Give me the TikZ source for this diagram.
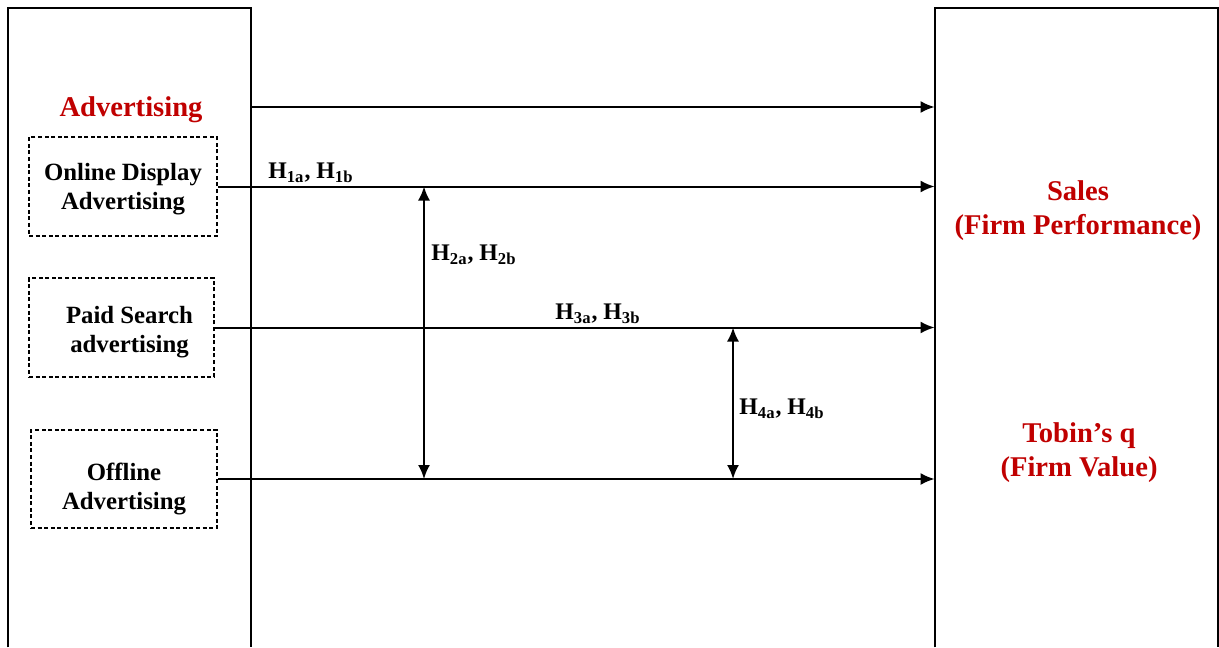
\documentclass[tikz,border=0pt]{standalone}
\usepackage{fontspec}
\setmainfont{Liberation Serif}
\usetikzlibrary{arrows.meta,calc}
\definecolor{redtxt}{HTML}{C00000}
\begin{document}
\begin{tikzpicture}[x=0.5pt,y=-0.5pt,
  bigbox/.style={rectangle,inner sep=0pt},
  dbox/.style={draw,dash pattern=on 2pt off 1.3pt,line width=0.75pt,rectangle,inner sep=0pt},
  dtext/.style={align=center,inner sep=0pt,font=\fontsize{12.4}{14.5}\selectfont\bfseries},
  redlbl/.style={text=redtxt,align=center,font=\fontsize{14.3}{17}\selectfont\bfseries},
  hlbl/.style={font=\fontsize{11.9}{13}\selectfont\bfseries,inner sep=0pt},
  arr/.style={line width=1pt,-{Latex[length=7pt,width=6pt]}},
  dbl/.style={line width=1pt,{Latex[length=7pt,width=6pt]}-{Latex[length=7pt,width=6pt]}}]
\useasboundingbox (0,0) rectangle (1219,647);
% big boxes
\node[bigbox,minimum width=121.5pt,minimum height=319.5pt] (left) at (129.5,327.5) {};
\node[bigbox,minimum width=141.5pt,minimum height=319.5pt] (right) at (1076.5,327.5) {};
\draw[line width=1pt] (left.south west) |- (left.north east) -- (left.south east);
\draw[line width=1pt] (right.south west) |- (right.north east) -- (right.south east);
% dashed boxes
\node[dbox,minimum width=94pt,minimum height=49.5pt] (onl) at (123,186.5) {};
\node[dbox,minimum width=92.5pt,minimum height=49.5pt] (paid) at (121.5,327.5) {};
\node[dbox,minimum width=93pt,minimum height=49pt] (off) at (124,479) {};
\node[dtext] (onlt) at (123,189.5) {Online Display\\Advertising};
\node[dtext] (paidt) at (129.5,332) {Paid Search\\advertising};
\node[dtext] (offt) at (124,488.5) {Offline\\Advertising};
% red texts
\node[redlbl] (adv) at (131,110) {Advertising};
\node[redlbl] (sales) at (1078,210.5) {Sales\\(Firm Performance)};
\node[redlbl] (tobin) at (1079,453) {Tobin’s q\\(Firm Value)};
% horizontal arrows
\coordinate (a1) at (0,107);
\draw[arr] (a1 -| left.east) -- (a1 -| right.west);
\draw[arr] (onl.east) -- (onl.east -| right.west);
\draw[arr] (paid.east) -- (paid.east -| right.west);
\draw[arr] (off.east) -- (off.east -| right.west);
% vertical double arrows
\coordinate (x2) at (424,0);
\coordinate (x4) at (733,0);
\draw[dbl] (onl.east -| x2) -- (off.east -| x2);
\draw[dbl] (paid.east -| x4) -- (off.east -| x4);
% hypothesis labels
\node[hlbl,anchor=west] (h1) at (268,173) {H\textsubscript{1a}, H\textsubscript{1b}};
\node[hlbl,anchor=west] (h2) at (431,255) {H\textsubscript{2a}, H\textsubscript{2b}};
\node[hlbl,anchor=west] (h3) at (555,314) {H\textsubscript{3a}, H\textsubscript{3b}};
\node[hlbl,anchor=west] (h4) at (739,409) {H\textsubscript{4a}, H\textsubscript{4b}};
\end{tikzpicture}
\end{document}
